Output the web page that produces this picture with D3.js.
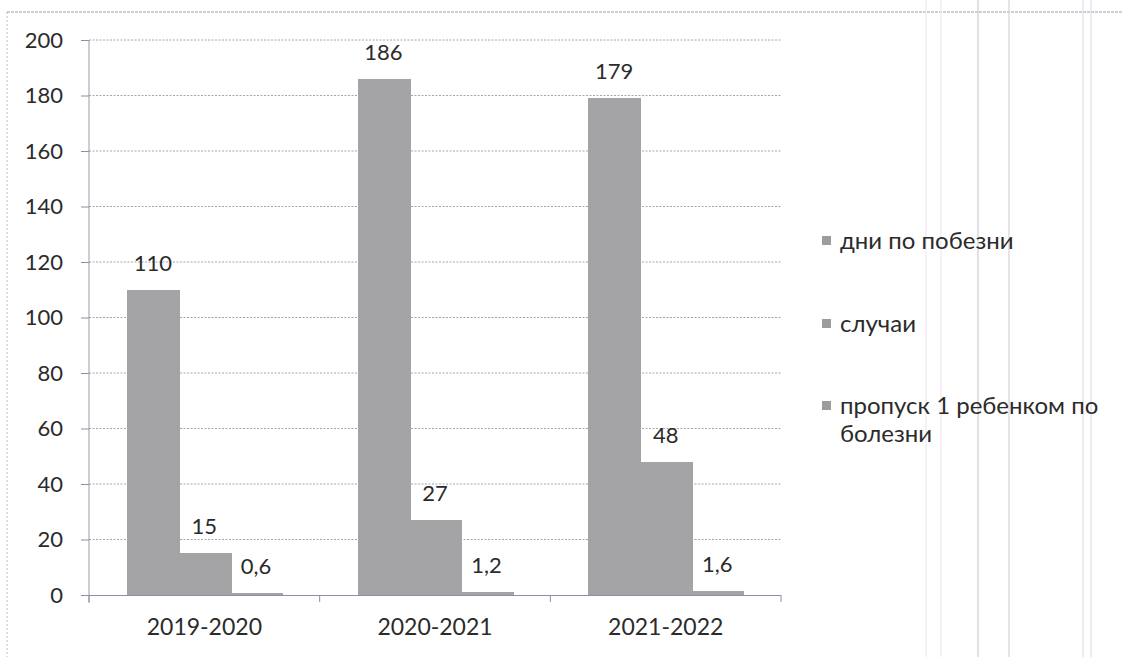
<!DOCTYPE html>
<html><head><meta charset="utf-8">
<script src="https://cdn.jsdelivr.net/npm/d3@7/dist/d3.min.js"></script>
<style>
html,body{margin:0;padding:0;background:#fff;}
svg{display:block;}
text{font-family:Lato,"Open Sans",sans-serif;fill:#2b2b2b;}
</style></head>
<body>
<svg id="chart" width="1123" height="657"></svg>
<script>
const categories = ["2019-2020", "2020-2021", "2021-2022"];
const seriesNames = ["дни по побезни", "случаи", "пропуск 1 ребенком по болезни"];
const seriesLabelLines = [["дни по побезни"], ["случаи"], ["пропуск 1 ребенком по", "болезни"]];
const daysSick = [110, 186, 179];
const cases = [15, 27, 48];
const missedPerChild = [0.6, 1.2, 1.6];
const yTicks = [0, 20, 40, 60, 80, 100, 120, 140, 160, 180, 200];

const series = [daysSick, cases, missedPerChild];
const svg = d3.select("#chart");
const W = 1123, H = 657;
const plot = {left: 89, right: 781, top: 40, bottom: 595};

// scan frame / artifacts
svg.append("line").attr("x1", 7).attr("x2", W).attr("y1", 12).attr("y2", 12)
  .attr("stroke", "#9a9aa8").attr("stroke-width", 1).attr("stroke-dasharray", "3,1");
svg.append("line").attr("x1", 7).attr("x2", 7).attr("y1", 12).attr("y2", H)
  .attr("stroke", "#b8b8c4").attr("stroke-width", 1).attr("stroke-dasharray", "2,2");
[[926,"#eee8f2"],[941,"#eee8f2"],[978,"#cfcfd6"],[1009,"#d4d4da"],[1083,"#e4dcea"],[1091,"#e4dcea"]].forEach(([x,c]) => {
  svg.append("line").attr("x1", x).attr("x2", x).attr("y1", 0).attr("y2", H)
    .attr("stroke", c).attr("stroke-width", 1.2);
});

const x0 = d3.scaleBand().domain(categories).range([plot.left, plot.right]).paddingInner(0).paddingOuter(0);
const x1 = d3.scaleBand().domain(d3.range(series.length)).range([38, x0.bandwidth() - 38]).padding(0);
const y = d3.scaleLinear().domain([0, 200]).range([plot.bottom, plot.top]);

// gridlines
svg.append("g").selectAll("line").data(yTicks.filter(d => d > 0)).join("line")
  .attr("x1", plot.left).attr("x2", plot.right)
  .attr("y1", d => y(d)).attr("y2", d => y(d))
  .attr("stroke", "#8e8ea4").attr("stroke-width", 1).attr("stroke-dasharray", "2,1.5").attr("opacity", 0.8);

// y axis
const yAxis = svg.append("g").attr("transform", `translate(${plot.left},0)`)
  .call(d3.axisLeft(y).tickValues(yTicks).tickSize(8).tickPadding(18));
yAxis.select(".domain").attr("stroke", "#9a9aa8").attr("d", `M-0,${plot.top}V${plot.bottom + 8}`);
yAxis.selectAll(".tick line").attr("stroke", "#8e8ea4");
yAxis.selectAll("text").style("font-size", "22px").attr("fill", "#2b2b2b");

// bars
const g = svg.append("g").attr("shape-rendering", "crispEdges");
const lg = svg.append("g");
categories.forEach((c, i) => {
  series.forEach((s, j) => {
    g.append("rect")
      .attr("x", Math.round(x0(c) + x1(j))).attr("width", Math.round(x1.bandwidth()) + 1)
      .attr("y", y(s[i])).attr("height", y(0) - y(s[i]))
      .attr("fill", "#a4a4a6");
    lg.append("text")
      .attr("x", x0(c) + x1(j) + x1.bandwidth() / 2)
      .attr("y", y(s[i]) - 19)
      .attr("text-anchor", "middle")
      .style("font-size", "22px")
      .text(String(s[i]).replace(".", ","));
  });
});

// x axis
const xAxis = svg.append("g").attr("transform", `translate(0,${plot.bottom})`)
  .call(d3.axisBottom(x0).tickSize(0).tickPadding(24));
xAxis.select(".domain").attr("stroke", "#8e8ea4").attr("d", `M${plot.left - 8},0.5H${plot.right}`);
xAxis.selectAll("text").style("font-size", "23px").attr("fill", "#2b2b2b");
const bounds = [plot.left, ...categories.map(c => x0(c) + x0.bandwidth())];
svg.append("g").selectAll("line").data(bounds).join("line")
  .attr("x1", d => d).attr("x2", d => d).attr("y1", plot.bottom).attr("y2", plot.bottom + 7)
  .attr("stroke", "#8e8ea4");

// legend
const legY = [241, 324, 406];
const leg = svg.append("g");
seriesLabelLines.forEach((lines, j) => {
  leg.append("rect").attr("x", 822).attr("y", legY[j] - 5).attr("width", 9).attr("height", 9).attr("fill", "#9c9c9e");
  lines.forEach((t, k) => {
    leg.append("text").attr("x", 840).attr("y", legY[j] + 8 + k * 28)
      .style("font-size", "24px").text(t);
  });
});
</script>
</body></html>
